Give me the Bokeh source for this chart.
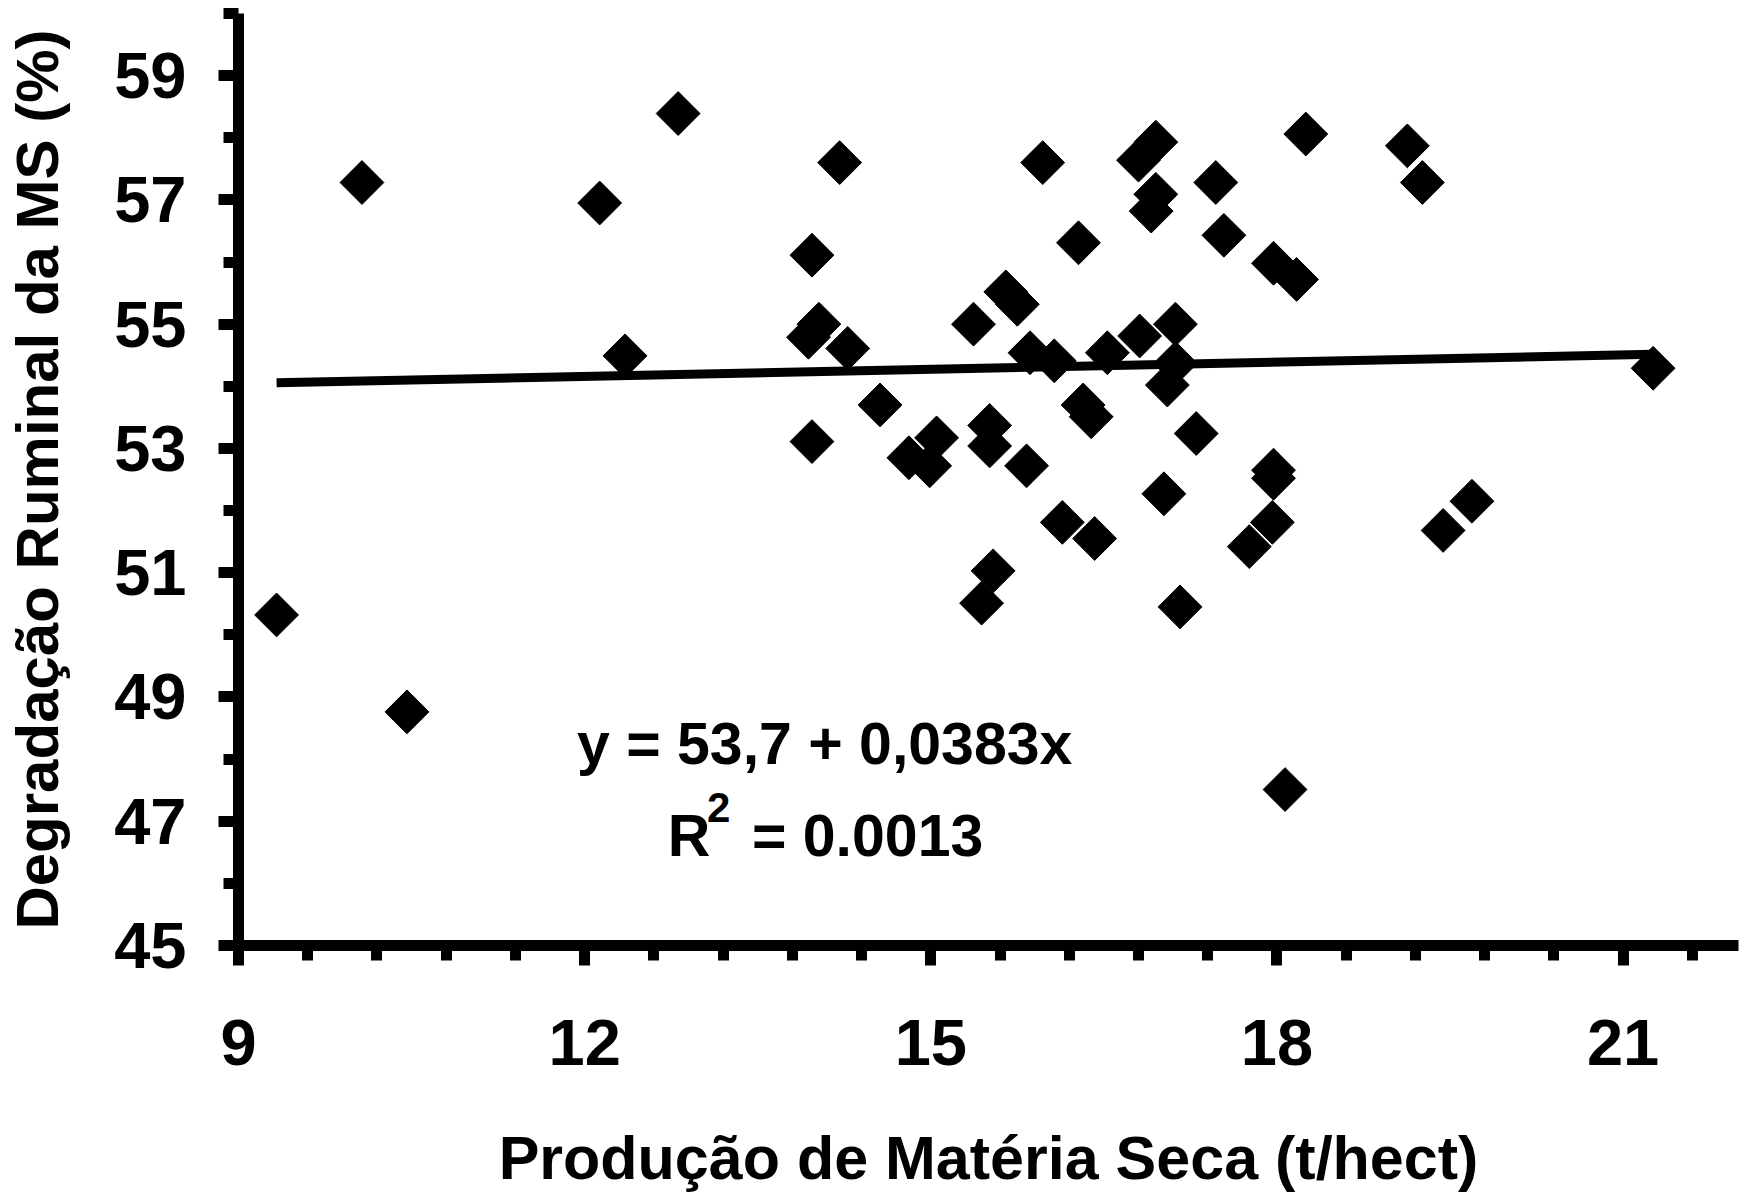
import numpy as np
from bokeh.plotting import figure
from bokeh.models import FixedTicker, Range1d
from bokeh.core.properties import value
from bokeh.embed import file_html
from bokeh.resources import INLINE

# ---- data ----
producao = [9.33, 10.07, 10.46, 12.13, 12.35, 12.81, 13.97, 14.21, 13.94, 14.03,
            14.28, 13.97, 14.56, 15.05, 14.81, 14.99, 15.37, 15.51, 15.51, 15.65,
            15.75, 15.83, 15.86, 16.07, 15.97, 16.28, 16.32, 16.39, 16.53, 16.81,
            16.80, 16.95, 16.95, 16.91, 17.12, 17.12, 17.05, 17.30, 17.02, 17.47,
            17.54, 17.97, 18.17, 18.25, 19.13, 19.26, 17.97, 17.97, 17.96, 17.76,
            16.14, 16.42, 15.54, 15.44, 17.16, 18.07, 19.69, 19.44, 21.26]
degradacao = [50.32, 57.28, 48.76, 56.95, 54.49, 58.39, 56.11, 57.60, 54.79, 55.00,
              54.61, 53.11, 53.70, 53.17, 52.85, 52.72, 55.00, 53.37, 53.04, 55.52,
              55.32, 52.72, 54.54, 54.41, 57.60, 56.31, 53.70, 53.51, 54.54, 54.81,
              57.64, 57.93, 57.09, 56.82, 55.00, 54.37, 54.02, 53.24, 52.27, 57.28,
              56.43, 55.98, 55.72, 58.06, 57.87, 57.28, 52.65, 52.52, 51.81, 51.42,
              51.81, 51.55, 51.03, 50.51, 50.45, 47.51, 52.15, 51.68, 54.29]

intercepto = 53.7
inclinacao = 0.0383

x_major = [9, 12, 15, 18, 21]
x_minor = [9.6, 10.2, 10.8, 11.4, 12.6, 13.2, 13.8, 14.4, 15.6, 16.2, 16.8, 17.4,
           18.6, 19.2, 19.8, 20.4, 21.6]
y_major = [45, 47, 49, 51, 53, 55, 57, 59]
y_minor = [46, 48, 50, 52, 54, 56, 58, 60]

eq_text = "y = 53,7 + 0,0383x"
r2_label = "R"
r2_sup = "2"
r2_value = "= 0.0013"

FONT = "Liberation Sans"

p = figure(width=1744, height=1194, output_backend="svg", toolbar_location=None,
           x_range=Range1d(9, 22), y_range=Range1d(45, 60),
           min_border_left=238, min_border_right=6, min_border_top=13,
           min_border_bottom=248)
p.outline_line_color = None
p.xgrid.visible = False
p.ygrid.visible = False
p.background_fill_color = "white"
p.border_fill_color = "white"

# regression line
xl = np.array([min(producao), max(producao)])
p.line(xl, intercepto + inclinacao * xl, line_color="black", line_width=9)

# points
p.scatter(producao, degradacao, marker="square", size=31, angle=np.pi / 4,
          fill_color="black", line_color="black", line_width=1)

# equation texts
p.text(x=[14.08], y=[48.25], text=[eq_text], text_align="center",
       text_baseline="alphabetic", text_font=value(FONT), text_font_style="bold",
       text_font_size="59px", text_color="black")
p.text(x=[12.72], y=[46.77], text=[r2_label], text_align="left",
       text_baseline="alphabetic", text_font=value(FONT), text_font_style="bold",
       text_font_size="59px", text_color="black")
p.text(x=[13.06], y=[47.22], text=[r2_sup], text_align="left",
       text_baseline="alphabetic", text_font=value(FONT), text_font_style="bold",
       text_font_size="42px", text_color="black")
p.text(x=[13.45], y=[46.77], text=[r2_value], text_align="left",
       text_baseline="alphabetic", text_font=value(FONT), text_font_style="bold",
       text_font_size="59px", text_color="black")

# axes
for ax in (p.xaxis[0], p.yaxis[0]):
    ax.axis_line_width = 11
    ax.axis_line_color = "black"
    ax.major_tick_line_width = 11
    ax.minor_tick_line_width = 11
    ax.major_tick_line_color = "black"
    ax.minor_tick_line_color = "black"
    ax.major_tick_in = 0
    ax.minor_tick_in = 0
    ax.major_tick_out = 20
    ax.minor_tick_out = 15
    ax.major_label_text_font = FONT
    ax.major_label_text_font_style = "bold"
    ax.major_label_text_font_size = "65px"
    ax.major_label_text_color = "black"
    ax.axis_label_text_font = FONT
    ax.axis_label_text_font_style = "bold"
    ax.axis_label_text_color = "black"

p.xaxis[0].ticker = FixedTicker(ticks=x_major, minor_ticks=x_minor)
p.yaxis[0].ticker = FixedTicker(ticks=y_major, minor_ticks=y_minor)

p.xaxis[0].axis_label = "Produção de Matéria Seca (t/hect)"
p.xaxis[0].axis_label_text_font_size = "61px"
p.xaxis[0].major_label_standoff = 54
p.xaxis[0].axis_label_standoff = 56

p.yaxis[0].axis_label = "Degradação Ruminal da MS (%)"
p.yaxis[0].axis_label_text_font_size = "60px"
p.yaxis[0].major_label_standoff = 32
p.yaxis[0].axis_label_standoff = 40

open("out.html", "w").write(file_html(p, INLINE))
